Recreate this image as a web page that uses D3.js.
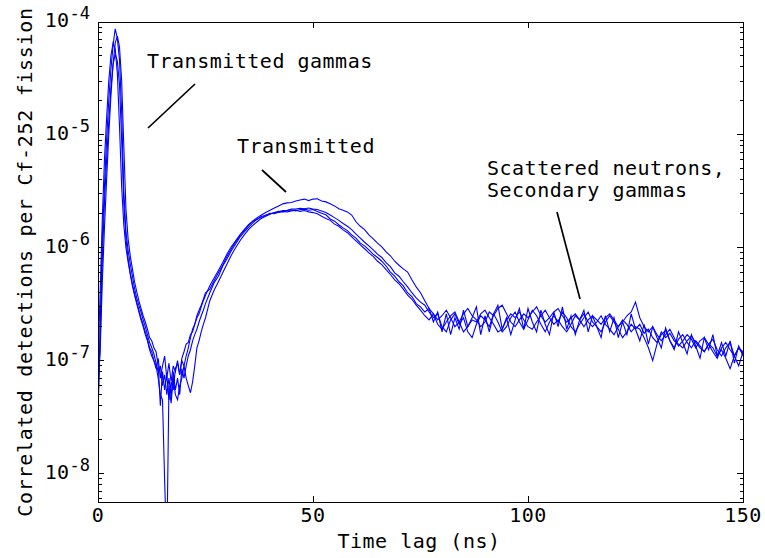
<!DOCTYPE html>
<html><head><meta charset="utf-8">
<script src="https://cdn.jsdelivr.net/npm/d3@7"></script>
<style>body{margin:0;background:#fff}svg{display:block}</style>
</head><body>
<svg id="chart" width="765" height="558"></svg>
<script>
// ---------------- DATA ----------------
const timeNs = [0,0.5,1,1.5,2,2.5,3,3.5,4,4.5,5,5.5,6,6.5,7,7.5,8,8.5,9,9.5,10,10.5,11,11.5,12,
12.5,13,13.5,14,14.5,15,15.5,16,16.5,17,17.5,18,18.5,19,19.5,20,20.5,21,21.5,22,22.5,23,23.5,24,24.5,25,
26,27,28,29,30,31,32,33,34,35,36,37,38,39,40,41,42,43,44,45,46,47,48,49,50,51,52,53,54,55,
56,57,58,59,60,61,62,63,64,65,66,67,68,69,70,71,72,73,74,75,76,77,78,79,80,81,82,83,84,85,
86,87,88,89,90,91,92,93,94,95,96,97,98,99,100,101,102,103,104,105,106,107,108,109,110,111,112,113,114,115,
116,117,118,119,120,121,122,123,124,125,126,127,128,129,130,131,132,133,134,135,136,137,138,139,140,141,142,143,144,145,
146,147,148,149,150];

const seriesA = [3.0e-8,2.0e-7,1.2e-6,3.5e-6,9.0e-6,2.0e-5,3.8e-5,6.2e-5,8.7e-5,7.2e-5,4.6e-5,1.6e-5,3.2e-6,1.4e-6,9.5e-7,7.2e-7,5.6e-7,4.4e-7,3.6e-7,3.1e-7,2.7e-7,2.3e-7,2.0e-7,1.7e-7,1.45e-7,
1.3e-7,1.15e-7,9.5e-8,8e-8,9e-8,6e-8,7.5e-8,5e-8,7e-8,4.8e-8,8e-8,5.5e-8,7e-8,5e-8,8.5e-8,7e-8,9e-8,1.1e-7,1.25e-7,1.5e-7,1.7e-7,1.9e-7,2.2e-7,2.5e-7,2.8e-7,3.2e-7,
4.0e-7,4.9e-7,5.6e-7,6.9e-7,8.0e-7,9.4e-7,1.08e-6,1.24e-6,1.38e-6,1.52e-6,
1.66e-6,1.80e-6,1.86e-6,1.95e-6,2.0e-6,2.04e-6,2.1e-6,2.08e-6,2.14e-6,2.16e-6,
2.12e-6,2.18e-6,2.2e-6,2.15e-6,2.18e-6,2.1e-6,2.02e-6,1.96e-6,1.8e-6,1.72e-6,
1.6e-6,1.5e-6,1.42e-6,1.3e-6,1.22e-6,1.1e-6,1.04e-6,9.6e-7,8.8e-7,8.2e-7,
7.6e-7,6.9e-7,6.1e-7,5.6e-7,5.0e-7,4.6e-7,4.0e-7,3.7e-7,3.2e-7,3.0e-7,
2.7e-7,2.9e-7,2.2e-7,2.7e-7,1.8e-7,2.6e-7,1.7e-7,2.4e-7,1.9e-7,2.8e-7,
2.0e-7,2.4e-7,3.0e-7,1.7e-7,2.5e-7,1.8e-7,2.6e-7,3.1e-7,1.9e-7,2.4e-7,
1.7e-7,2.3e-7,2.9e-7,1.9e-7,2.9e-7,2.2e-7,1.8e-7,2.8e-7,2.1e-7,1.7e-7,
2.7e-7,2.0e-7,3.0e-7,1.9e-7,2.5e-7,1.7e-7,2.3e-7,2.8e-7,1.8e-7,2.5e-7,
2.0e-7,1.6e-7,2.5e-7,1.8e-7,2.4e-7,1.6e-7,2.2e-7,1.7e-7,2.6e-7,1.9e-7,
1.5e-7,2.1e-7,1.4e-7,2.0e-7,1.6e-7,1.3e-7,1.95e-7,1.5e-7,1.25e-7,1.8e-7,
1.45e-7,1.15e-7,1.7e-7,1.35e-7,1.05e-7,1.6e-7,1.25e-7,1.7e-7,1.1e-7,1.45e-7,
1.1e-7,1.5e-7,9.5e-8,1.35e-7,1.1e-7];

const seriesB = [1.0e-7,4.0e-7,1.8e-6,6.0e-6,1.4e-5,3.0e-5,5.0e-5,6.5e-5,5.8e-5,3.5e-5,1.2e-5,3.5e-6,1.6e-6,1.0e-6,7.5e-7,5.8e-7,4.6e-7,3.8e-7,3.2e-7,2.7e-7,2.3e-7,2.0e-7,1.7e-7,1.5e-7,1.25e-7,
1.1e-7,1.0e-7,8.5e-8,1.05e-7,7e-8,9e-8,1.1e-7,7e-8,9.5e-8,6.5e-8,9e-8,8e-8,1.0e-7,7.5e-8,1.05e-7,1.2e-7,1.4e-7,1.45e-7,1.7e-7,1.8e-7,2.1e-7,2.4e-7,2.6e-7,3.0e-7,3.4e-7,3.8e-7,
4.6e-7,5.4e-7,6.3e-7,7.4e-7,8.8e-7,1.02e-6,1.15e-6,1.3e-6,1.45e-6,1.6e-6,
1.72e-6,1.78e-6,1.9e-6,1.92e-6,2.02e-6,2.0e-6,2.06e-6,2.1e-6,2.08e-6,2.12e-6,
2.15e-6,2.1e-6,2.14e-6,2.08e-6,2.05e-6,2.0e-6,1.9e-6,1.82e-6,1.75e-6,1.62e-6,
1.55e-6,1.44e-6,1.36e-6,1.25e-6,1.15e-6,1.06e-6,9.8e-7,9.0e-7,8.4e-7,7.6e-7,
7.1e-7,6.4e-7,5.8e-7,5.2e-7,4.8e-7,4.3e-7,3.8e-7,3.5e-7,3.1e-7,2.8e-7,
2.5e-7,2.3e-7,2.6e-7,2.1e-7,1.9e-7,2.2e-7,2.5e-7,2.7e-7,2.2e-7,1.8e-7,
2.0e-7,2.3e-7,2.2e-7,2.6e-7,2.8e-7,2.4e-7,2.1e-7,1.8e-7,1.9e-7,2.3e-7,
2.6e-7,2.4e-7,2.7e-7,2.3e-7,2.0e-7,1.9e-7,2.2e-7,2.5e-7,2.8e-7,2.4e-7,
2.1e-7,2.3e-7,2.0e-7,1.8e-7,2.1e-7,2.5e-7,2.3e-7,2.6e-7,2.2e-7,2.0e-7,
2.2e-7,2.5e-7,2.1e-7,1.9e-7,1.7e-7,2.0e-7,2.3e-7,2.1e-7,1.8e-7,2.0e-7,
1.9e-7,1.6e-7,1.3e-7,1.0e-7,1.4e-7,1.8e-7,1.6e-7,1.75e-7,1.5e-7,1.4e-7,
1.3e-7,1.5e-7,1.65e-7,1.45e-7,1.3e-7,1.2e-7,1.4e-7,1.3e-7,1.1e-7,1.25e-7,
1.05e-7,8.5e-8,1.1e-7,1.3e-7,1.2e-7];

const seriesC = [6e-8,1.2e-7,5e-7,1.5e-6,4e-6,1.0e-5,2.2e-5,4.2e-5,6.5e-5,7.5e-5,6e-5,3e-5,8e-6,2.2e-6,1.2e-6,8.5e-7,6.5e-7,5e-7,4.1e-7,3.4e-7,2.9e-7,2.5e-7,2.2e-7,1.9e-7,1.6e-7,
1.5e-7,1.3e-7,1.2e-7,9e-8,4e-8,8e-8,5.5e-8,7.5e-8,4.5e-8,6.5e-8,5.5e-8,8.5e-8,9.5e-8,7.5e-8,1.0e-7,9e-8,7e-8,6e-8,5.2e-8,6.5e-8,9e-8,1.3e-7,1.5e-7,1.8e-7,2.1e-7,2.4e-7,
3.4e-7,4.2e-7,5.0e-7,6.0e-7,7.2e-7,8.6e-7,1.0e-6,1.15e-6,1.3e-6,1.45e-6,
1.58e-6,1.7e-6,1.82e-6,1.9e-6,1.98e-6,2.05e-6,2.08e-6,2.14e-6,2.15e-6,2.2e-6,
2.2e-6,2.24e-6,2.22e-6,2.25e-6,2.2e-6,2.18e-6,2.12e-6,2.05e-6,1.95e-6,1.85e-6,
1.75e-6,1.64e-6,1.55e-6,1.45e-6,1.32e-6,1.22e-6,1.12e-6,1.04e-6,9.6e-7,8.8e-7,
8.2e-7,7.4e-7,6.8e-7,6.0e-7,5.6e-7,5.0e-7,4.5e-7,4.0e-7,3.6e-7,3.3e-7,
3.1e-7,2.7e-7,2.4e-7,2.6e-7,2.0e-7,1.8e-7,2.3e-7,2.6e-7,2.1e-7,2.4e-7,
1.8e-7,1.6e-7,2.1e-7,2.5e-7,2.3e-7,2.0e-7,2.6e-7,2.2e-7,1.8e-7,2.0e-7,
2.4e-7,2.7e-7,2.2e-7,1.9e-7,2.3e-7,2.8e-7,2.5e-7,2.1e-7,1.8e-7,2.2e-7,
2.5e-7,2.2e-7,2.7e-7,2.4e-7,2.0e-7,1.8e-7,2.1e-7,2.4e-7,2.7e-7,2.2e-7,
2.0e-7,1.8e-7,2.2e-7,2.5e-7,2.2e-7,1.9e-7,1.6e-7,1.8e-7,2.1e-7,1.9e-7,
2.1e-7,1.75e-7,1.9e-7,1.6e-7,1.45e-7,1.7e-7,1.85e-7,1.5e-7,1.3e-7,1.55e-7,
1.7e-7,1.45e-7,1.3e-7,1.5e-7,1.35e-7,1.2e-7,1.4e-7,1.55e-7,1.25e-7,1.1e-7,
1.3e-7,1.45e-7,1.1e-7,9e-8,1.2e-7];

const seriesD = [4e-8,1.5e-7,8e-7,2.5e-6,6e-6,1.3e-5,2.6e-5,4.2e-5,5.2e-5,4.5e-5,2.8e-5,9e-6,2.5e-6,1.2e-6,8e-7,6e-7,4.8e-7,3.9e-7,3.3e-7,2.8e-7,2.4e-7,2.1e-7,1.8e-7,1.55e-7,1.3e-7,
1.2e-7,1.0e-7,9e-8,7e-8,5e-8,4.5e-8,8.6e-9,2e-9,6e-8,4.2e-8,7e-8,5e-8,4.5e-8,6e-8,7e-8,9e-8,1.1e-7,1.3e-7,1.6e-7,1.9e-7,2.1e-7,2.5e-7,2.8e-7,3.1e-7,3.5e-7,4.0e-7,
4.3e-7,5.1e-7,6.0e-7,7.0e-7,8.4e-7,9.8e-7,1.12e-6,1.28e-6,1.42e-6,1.58e-6,
1.72e-6,1.85e-6,1.95e-6,2.05e-6,2.15e-6,2.25e-6,2.35e-6,2.45e-6,2.5e-6,2.52e-6,
2.6e-6,2.65e-6,2.7e-6,2.62e-6,2.7e-6,2.72e-6,2.6e-6,2.55e-6,2.45e-6,2.35e-6,
2.22e-6,2.15e-6,2.08e-6,1.95e-6,1.7e-6,1.55e-6,1.45e-6,1.3e-6,1.2e-6,1.1e-6,
1.02e-6,9.2e-7,8.5e-7,7.6e-7,7.0e-7,6.5e-7,6.1e-7,5.2e-7,4.5e-7,4.0e-7,
3.4e-7,2.9e-7,2.6e-7,2.3e-7,2.5e-7,2.8e-7,2.4e-7,2.0e-7,2.2e-7,2.6e-7,
2.9e-7,2.5e-7,2.3e-7,2.0e-7,2.2e-7,2.7e-7,2.5e-7,2.9e-7,3.1e-7,2.6e-7,
2.2e-7,2.0e-7,2.3e-7,2.6e-7,2.4e-7,2.7e-7,3.0e-7,2.5e-7,2.2e-7,2.4e-7,
2.7e-7,2.9e-7,2.5e-7,2.2e-7,2.4e-7,2.6e-7,2.3e-7,2.0e-7,2.3e-7,2.5e-7,
2.3e-7,2.1e-7,2.4e-7,2.6e-7,2.3e-7,2.0e-7,2.2e-7,2.5e-7,2.7e-7,3.3e-7,
2.4e-7,2.0e-7,1.8e-7,2.0e-7,1.7e-7,1.5e-7,1.7e-7,1.9e-7,1.6e-7,1.35e-7,
1.5e-7,1.7e-7,1.55e-7,1.3e-7,1.5e-7,1.6e-7,1.4e-7,1.2e-7,1.05e-7,1.3e-7,
1.45e-7,1.25e-7,1.1e-7,1.3e-7,1.15e-7];

const xLimits = [0, 150];
const yLimits = [5.6e-9, 1e-4];
const xTicks = [0, 50, 100, 150];
const xTickLabels = ["0", "50", "100", "150"];
const yMajorTicks = [1e-8, 1e-7, 1e-6, 1e-5, 1e-4];
const yTickExponents = ["-8", "-7", "-6", "-5", "-4"];
const xAxisTitle = "Time lag (ns)";
const yAxisTitle = "Correlated detections per Cf-252 fission";
const annotationLines = [
  ["Transmitted gammas"],
  ["Transmitted"],
  ["Scattered neutrons,", "Secondary gammas"]
];

// ---------------- DRAW ----------------
const FONT = "'DejaVu Sans Mono', monospace";
const L = 98, R = 743, T = 22, B = 502;
const svg = d3.select("#chart");
const x = d3.scaleLinear().domain(xLimits).range([L, R]);
const y = d3.scaleLog().domain(yLimits).range([B, T]);

svg.append("rect").attr("width", 765).attr("height", 558).attr("fill", "#fff");
svg.append("defs").append("clipPath").attr("id", "plotclip")
  .append("rect").attr("x", L).attr("y", T).attr("width", R - L).attr("height", B - T);

// curves
const line = d3.line()
  .defined(d => d > 0)
  .x((d, i) => x(timeNs[i]))
  .y(d => y(d));
const gLines = svg.append("g").attr("clip-path", "url(#plotclip)");
[seriesA, seriesB, seriesC, seriesD].forEach(s => {
  gLines.append("path").attr("d", line(s.slice(0, timeNs.length)))
    .attr("fill", "none").attr("stroke", "#0000ff").attr("stroke-width", 1.1)
    .attr("stroke-linejoin", "miter");
});

// box
const axisG = svg.append("g").attr("stroke", "#000").attr("stroke-width", 1).attr("shape-rendering", "crispEdges");
axisG.append("rect").attr("x", L).attr("y", T).attr("width", R - L).attr("height", B - T).attr("fill", "none");

// x ticks
xTicks.forEach((t, i) => {
  const px = x(t);
  axisG.append("line").attr("x1", px).attr("x2", px).attr("y1", B).attr("y2", B - 6);
  axisG.append("line").attr("x1", px).attr("x2", px).attr("y1", T).attr("y2", T + 6);
  svg.append("text").attr("x", px).attr("y", 522).attr("text-anchor", "middle")
    .attr("font-family", FONT).attr("font-size", 20).attr("letter-spacing", 0.4)
    .text(xTickLabels[i]);
});

// y ticks (major + minor)
const minor = [];
for (let e = -9; e <= -5; e++) {
  for (let k = 2; k <= 9; k++) {
    const v = k * Math.pow(10, e);
    if (v >= yLimits[0] && v <= yLimits[1]) minor.push(v);
  }
}
minor.forEach(v => {
  const py = y(v);
  axisG.append("line").attr("x1", L).attr("x2", L + 3.5).attr("y1", py).attr("y2", py);
  axisG.append("line").attr("x1", R).attr("x2", R - 3.5).attr("y1", py).attr("y2", py);
});
yMajorTicks.forEach((v, i) => {
  const py = y(v);
  axisG.append("line").attr("x1", L).attr("x2", L + 6).attr("y1", py).attr("y2", py);
  axisG.append("line").attr("x1", R).attr("x2", R - 6).attr("y1", py).attr("y2", py);
  const tx = svg.append("text").attr("x", 90).attr("y", py + 5).attr("text-anchor", "end")
    .attr("font-family", FONT).attr("fill", "#000");
  tx.append("tspan").attr("font-size", 20).attr("letter-spacing", 0.4).text("10");
  tx.append("tspan").attr("font-size", 17).attr("dy", -8).text(yTickExponents[i]);
});

// axis titles
svg.append("text").attr("x", 419).attr("y", 548).attr("text-anchor", "middle")
  .attr("font-family", FONT).attr("font-size", 20).attr("letter-spacing", 0.5).text(xAxisTitle);
svg.append("text").attr("transform", `translate(32,${(T + B) / 2}) rotate(-90)`)
  .attr("text-anchor", "middle")
  .attr("font-family", FONT).attr("font-size", 20).attr("letter-spacing", 0.7).text(yAxisTitle);

// annotations
const annG = svg.append("g").attr("font-family", FONT).attr("font-size", 20).attr("letter-spacing", 0.5);
annG.append("text").attr("x", 147).attr("y", 68).text(annotationLines[0][0]);
annG.append("text").attr("x", 237).attr("y", 153).text(annotationLines[1][0]);
annG.append("text").attr("x", 487).attr("y", 175).text(annotationLines[2][0]);
annG.append("text").attr("x", 487).attr("y", 197).text(annotationLines[2][1]);
const leader = [[148,128,195,84],[262,170,286,192],[557,212,580,299]];
leader.forEach(l => svg.append("line").attr("x1", l[0]).attr("y1", l[1]).attr("x2", l[2]).attr("y2", l[3])
  .attr("stroke", "#000").attr("stroke-width", 1.7));
</script>
</body></html>
